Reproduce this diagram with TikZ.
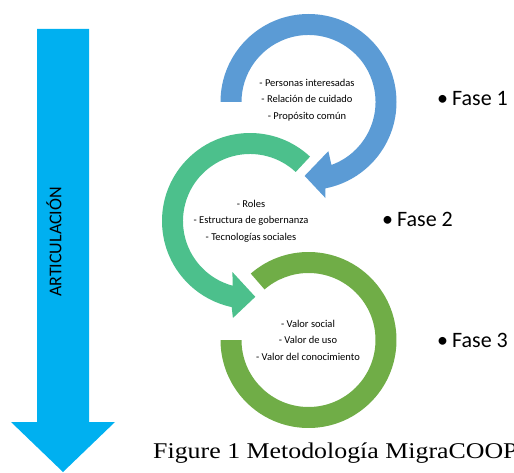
\documentclass[tikz,border=0pt]{standalone}
\usepackage{fontspec}
\newfontfamily\calib{Carlito}
\newfontfamily\capfont{Liberation Serif}
\usepackage{tikz}
\definecolor{faseuno}{RGB}{91,155,213}
\definecolor{fasedos}{RGB}{76,192,140}
\definecolor{fasetres}{RGB}{112,173,71}
\definecolor{artic}{RGB}{0,176,240}
\tikzset{lista/.style={align=center,inner sep=0pt,font=\calib\fontsize{10.5}{16.5}\selectfont},
         fase/.style={anchor=base west,inner sep=0pt,font=\calib\fontsize{22}{26}\selectfont}}
\begin{document}
\begin{tikzpicture}[x=1pt,y=1pt]
\useasboundingbox (0,0) rectangle (514,472);
% flecha de articulacion
\fill[artic](37,443)--(89,443)--(89,50)--(115,50)--(63,0)--(11,50)--(37,50)--cycle;
\node[rotate=90,inner sep=0pt,font=\calib\fontsize{18}{20}\selectfont](art)at(54,230){ARTICULACIÓN};
% fase 1
\fill[faseuno,shift={(308.5,370)}](180:88pt)arc[start angle=180,end angle=-79,radius=88pt]--(-80:97.5pt)--(-93:74pt)--(-68:53pt)--(-70:67pt)arc[start angle=-70,end angle=180,radius=67pt]--cycle;
% fase 2
\fill[fasedos,shift={(250,251)}](47:88pt)arc[start angle=47,end angle=258,radius=88pt]--(260:98.5pt)--(274:76pt)--(251:54pt)--(255:67pt)arc[start angle=255,end angle=47,radius=67pt]--cycle;
% fase 3
\fill[fasetres,shift={(308.5,132)}](131:88pt)arc[start angle=131,end angle=-180,radius=88pt]--(180:67pt)arc[start angle=-180,end angle=131,radius=67pt]--cycle;
\node[lista](l1)at(307,372){- Personas interesadas\\- Relación de cuidado\\- Propósito común};
\node[lista](l2)at(251,251){- Roles\\- Estructura de gobernanza\\- Tecnologías sociales};
\node[lista](l3)at(308,132){- Valor social\\- Valor de uso\\- Valor del conocimiento};
\node[fase](f1)at(437,366){\textbullet\hspace{4pt}Fase 1};
\node[fase](f2)at(382,245){\textbullet\hspace{4pt}Fase 2};
\node[fase](f3)at(437,125){\textbullet\hspace{4pt}Fase 3};
\node[anchor=base west,inner sep=0pt,xscale=1.15,font=\capfont\fontsize{22.5}{26}\selectfont](cap)at(153,14){Figure 1 Metodología MigraCOOP};
\end{tikzpicture}
\end{document}
